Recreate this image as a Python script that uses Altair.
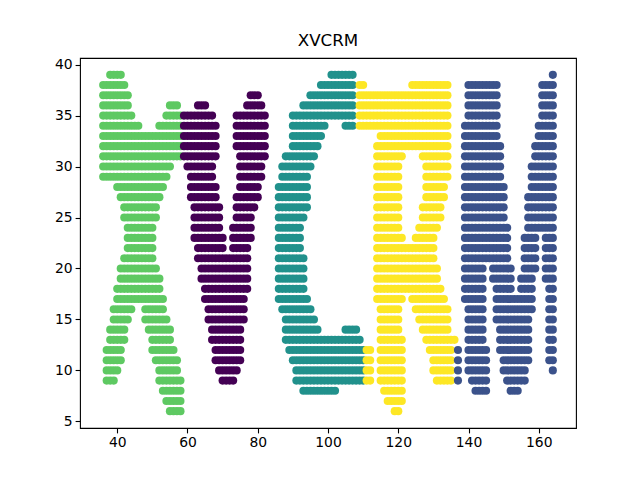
import pandas as pd
import altair as alt

LETTERS = ["X", "V", "C", "R", "M"]
COLORS = ["#5ec962", "#440154", "#21918c", "#fde725", "#3b528b"]

# rows of markers: (y, first x, last x), one marker per integer x
X_RUNS = [
    (39, 38, 41), (38, 36, 42), (37, 36, 43), (36, 36, 43), (36, 55, 57),
    (35, 36, 44), (35, 54, 58), (34, 36, 46), (34, 52, 58),
    (33, 36, 58), (32, 36, 58), (31, 36, 58), (30, 36, 55), (29, 36, 54),
    (28, 40, 53), (27, 41, 52), (26, 42, 51), (25, 42, 51), (24, 43, 50),
    (23, 43, 50), (22, 43, 50), (21, 42, 50), (20, 41, 51), (19, 41, 52),
    (18, 40, 52), (17, 40, 53),
    (16, 39, 44), (16, 48, 53), (15, 39, 43), (15, 48, 54),
    (14, 38, 42), (14, 49, 55), (13, 38, 42), (13, 50, 55),
    (12, 37, 41), (12, 50, 56), (11, 37, 41), (11, 51, 57),
    (10, 37, 40), (10, 52, 57), (9, 37, 39), (9, 52, 58),
    (8, 53, 58), (7, 54, 58), (6, 55, 58),
]

V_RUNS = [
    (37, 78, 80), (36, 63, 65), (36, 77, 81),
    (35, 59, 67), (35, 74, 82), (34, 59, 68), (34, 74, 82),
    (33, 59, 68), (33, 74, 82), (32, 59, 68), (32, 74, 82),
    (31, 59, 68), (31, 75, 82), (30, 60, 67), (30, 75, 81),
    (29, 61, 67), (29, 75, 81), (28, 61, 68), (28, 75, 80),
    (27, 61, 68), (27, 74, 80), (26, 62, 69), (26, 74, 79),
    (25, 62, 69), (25, 74, 78), (24, 62, 69), (24, 73, 78),
    (23, 62, 70), (23, 73, 78), (22, 63, 70), (22, 73, 77),
    (21, 63, 77), (20, 64, 77), (19, 64, 77), (18, 65, 77), (17, 65, 76),
    (16, 66, 76), (15, 66, 76), (14, 67, 75), (13, 67, 75), (12, 68, 75),
    (11, 68, 75), (10, 69, 74), (9, 70, 73),
]

C_RUNS = [
    (39, 101, 107), (38, 98, 107), (37, 95, 107), (36, 93, 107), (35, 90, 107),
    (34, 90, 99), (34, 105, 107),
    (33, 90, 98), (32, 90, 97), (31, 88, 96), (30, 87, 95), (29, 87, 94),
    (28, 86, 94), (27, 86, 94), (26, 86, 94), (25, 86, 93), (24, 86, 92),
    (23, 86, 92), (22, 86, 92), (21, 86, 93), (20, 86, 93), (19, 86, 93),
    (18, 86, 93), (17, 86, 94), (16, 87, 95), (15, 88, 96),
    (14, 88, 97), (14, 105, 108),
    (13, 88, 109), (12, 89, 110), (11, 90, 110), (10, 91, 110), (9, 91, 110),
    (8, 93, 102),
]

R_RUNS = [
    (38, 109, 110), (38, 124, 134),
    (37, 109, 134), (36, 109, 134), (35, 109, 134), (34, 109, 134),
    (33, 115, 134), (32, 114, 134),
    (31, 114, 121), (31, 127, 134), (30, 114, 120), (30, 128, 134),
    (29, 114, 120), (29, 128, 134), (28, 114, 120), (28, 128, 133),
    (27, 114, 120), (27, 128, 133), (26, 114, 120), (26, 127, 132),
    (25, 114, 120), (25, 127, 132), (24, 114, 120), (24, 126, 131),
    (23, 114, 121), (23, 125, 130),
    (22, 114, 130), (21, 114, 130), (20, 114, 131), (19, 114, 131), (18, 114, 132),
    (17, 114, 121), (17, 124, 133), (16, 115, 120), (16, 125, 134),
    (15, 115, 120), (15, 126, 134), (14, 115, 120), (14, 127, 134),
    (13, 115, 121), (13, 128, 136),
    (12, 111, 112), (12, 115, 121), (12, 129, 135),
    (11, 111, 112), (11, 115, 121), (11, 130, 135),
    (10, 111, 112), (10, 115, 121), (10, 130, 135),
    (9, 111, 112), (9, 115, 121), (9, 131, 135),
    (8, 116, 121), (7, 117, 121), (6, 119, 120),
]

M_RUNS = [
    (39, 164, 164),
    (38, 140, 148), (38, 161, 164), (37, 140, 148), (37, 161, 164),
    (36, 140, 148), (36, 161, 164), (35, 140, 148), (35, 161, 164),
    (34, 139, 148), (34, 160, 164), (33, 139, 148), (33, 160, 164),
    (32, 139, 149), (32, 159, 164), (31, 139, 149), (31, 159, 164),
    (30, 139, 149), (30, 158, 164), (29, 139, 149), (29, 158, 164),
    (28, 139, 150), (28, 158, 164), (27, 139, 150), (27, 157, 164),
    (26, 139, 150), (26, 157, 164), (25, 139, 150), (25, 157, 164),
    (24, 139, 151), (24, 157, 164),
    (23, 139, 151), (23, 156, 159), (23, 162, 164),
    (22, 139, 151), (22, 156, 159), (22, 162, 164),
    (21, 139, 151), (21, 156, 159), (21, 162, 164),
    (20, 139, 144), (20, 147, 152), (20, 156, 159), (20, 162, 164),
    (19, 139, 144), (19, 147, 152), (19, 155, 158), (19, 162, 164),
    (18, 139, 144), (18, 148, 152), (18, 155, 158), (18, 163, 164),
    (17, 139, 144), (17, 148, 158), (17, 163, 164),
    (16, 140, 144), (16, 148, 158), (16, 163, 164),
    (15, 140, 144), (15, 148, 157), (15, 163, 164),
    (14, 140, 144), (14, 149, 157), (14, 163, 164),
    (13, 140, 144), (13, 149, 157), (13, 163, 164),
    (12, 137, 137), (12, 140, 145), (12, 149, 157), (12, 163, 164),
    (11, 137, 137), (11, 140, 145), (11, 150, 157), (11, 163, 164),
    (10, 137, 137), (10, 140, 145), (10, 150, 156), (10, 164, 164),
    (9, 137, 137), (9, 141, 145), (9, 151, 156),
    (8, 142, 145), (8, 152, 154),
]

X_TICKS = [40, 60, 80, 100, 120, 140, 160]
Y_TICKS = [5, 10, 15, 20, 25, 30, 35, 40]

rows = []
for letter, runs in zip(LETTERS, [X_RUNS, V_RUNS, C_RUNS, R_RUNS, M_RUNS]):
    for y, x0, x1 in runs:
        for x in range(x0, x1 + 1):
            rows.append({"x": x, "y": y, "letter": letter})
df = pd.DataFrame(rows)

chart = alt.Chart(df).mark_circle(size=66, opacity=1).encode(
    x=alt.X("x:Q", scale=alt.Scale(domain=[29.4, 170.6], nice=False, zero=False),
            axis=alt.Axis(values=X_TICKS, title=None)),
    y=alt.Y("y:Q", scale=alt.Scale(domain=[4.35, 40.65], nice=False, zero=False),
            axis=alt.Axis(values=Y_TICKS, title=None)),
    color=alt.Color("letter:N", scale=alt.Scale(domain=LETTERS, range=COLORS), legend=None),
).properties(
    width=496,
    height=370,
    title=alt.Title("XVCRM", fontSize=16.7, font="DejaVu Sans", fontWeight="normal",
                    color="black", offset=8),
    autosize=alt.AutoSizeParams(type="none"),
    padding={"left": 72, "top": 50, "right": 56, "bottom": 44},
).configure_view(
    stroke="black", strokeWidth=1.1
).configure_axis(
    grid=False, domain=False, tickColor="black", tickSize=4.9, tickWidth=1.1,
    labelFont="DejaVu Sans", labelFontSize=13.9, labelColor="black", labelPadding=3
)

chart.save("out.html", embed_options={"renderer": "svg", "actions": False})
